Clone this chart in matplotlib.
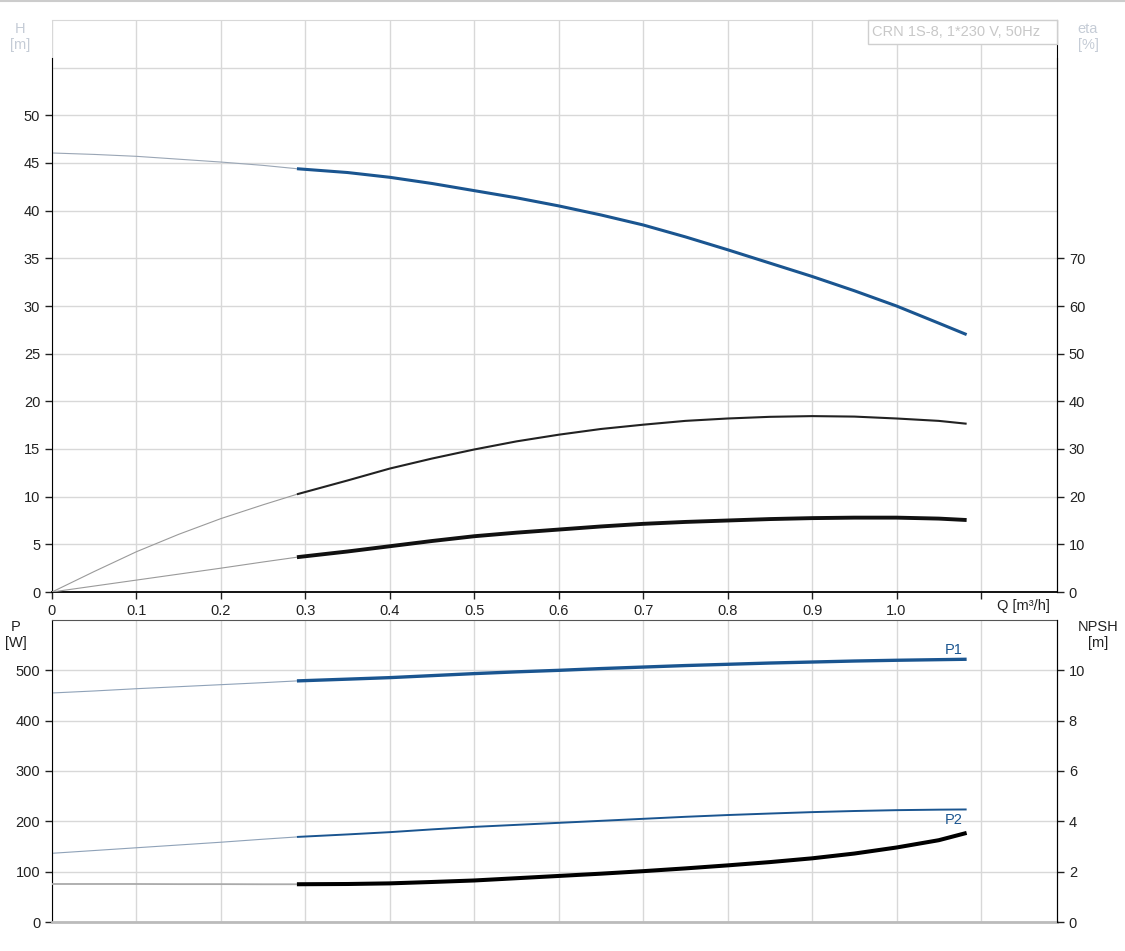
import numpy as np
from matplotlib import pyplot as plt
from matplotlib.patches import Rectangle

plt.rcParams['font.family'] = ['Liberation Sans', 'DejaVu Sans']
plt.rcParams['font.size'] = 10.5

# flow points [m3/h]
q = [0.0, 0.05, 0.1, 0.15, 0.2, 0.25, 0.29, 0.35, 0.4, 0.45, 0.5, 0.55,
     0.6, 0.65, 0.7, 0.75, 0.8, 0.85, 0.9, 0.95, 1.0, 1.05, 1.083]
q_start = 0.29  # start of the working range (thick part)

# head [m]
head = [46.05, 45.9, 45.7, 45.4, 45.1, 44.75, 44.4, 44.0, 43.5, 42.85, 42.1, 41.35,
        40.5, 39.55, 38.5, 37.25, 35.9, 34.5, 33.1, 31.6, 30.0, 28.2, 27.0]
# efficiencies [%]
eta_pump = [0.0, 4.3, 8.45, 12.1, 15.4, 18.3, 20.5, 23.4, 25.9, 28.0, 29.9, 31.6,
            33.0, 34.2, 35.1, 35.9, 36.4, 36.75, 36.9, 36.8, 36.4, 35.9, 35.3]
eta_total = [0.0, 1.25, 2.5, 3.75, 5.0, 6.3, 7.3, 8.5, 9.6, 10.7, 11.7, 12.45,
             13.1, 13.75, 14.3, 14.7, 15.0, 15.3, 15.5, 15.6, 15.6, 15.4, 15.1]
# power [W]
p1 = [455, 459, 463.5, 467.5, 471.5, 475.5, 479, 482.5, 485.5, 489.5, 493.5, 497,
      500, 503.5, 506.5, 509.5, 512, 514.5, 516.5, 518.5, 520, 521.2, 522]
p2 = [136.5, 142, 147.5, 153, 158.5, 164.5, 169, 174, 178.5, 184, 189, 193,
      197, 201, 205, 209, 212.5, 215.5, 218.3, 220.5, 222.2, 223.2, 223.6]
# NPSH [m]
npsh = [1.51, 1.51, 1.51, 1.505, 1.505, 1.50, 1.50, 1.51, 1.535, 1.59, 1.65, 1.74,
        1.83, 1.92, 2.02, 2.13, 2.25, 2.38, 2.53, 2.72, 2.96, 3.25, 3.54]

q_ticklabels = ['0', '0.1', '0.2', '0.3', '0.4', '0.5', '0.6', '0.7', '0.8', '0.9', '1.0', '']

grid_col = '#d8d8d8'
light_txt = '#c5ccd6'
blue = '#1a5590'
W = 1005  # axes width in px
H_TOP = 572  # top axes height in px


def split(y):
    q_arr = np.array(q)
    y_arr = np.array(y, dtype=float)
    lo = q_arr <= q_start + 1e-9
    hi = q_arr >= q_start - 1e-9
    return (q_arr[lo], y_arr[lo]), (q_arr[hi], y_arr[hi])


def curve(ax, y, col, thin_col, lw_thick, lw_thin=0.8):
    (qa, ya), (qb, yb) = split(y)
    ax.plot(qa, ya, color=thin_col, lw=lw_thin, solid_capstyle='butt')
    ax.plot(qb, yb, color=col, lw=lw_thick, solid_capstyle='butt',
            solid_joinstyle='round')


def style_axes(ax):
    ax.set_xlim(0, 1.19)
    ax.set_xticks(np.arange(0, 1.15, 0.1))
    ax.grid(True, color=grid_col, lw=1)
    ax.set_axisbelow(True)
    ax.tick_params(direction='out', length=5, width=1, colors='#222222')


fig = plt.figure(figsize=(11.25, 9.51), dpi=100)

# ---------------- top: H and eta ----------------
ax = fig.add_axes([52 / 1125, 1 - 592 / 951, W / 1125, H_TOP / 951])
style_axes(ax)
ax.set_ylim(0, 60)
ax.set_yticks(np.arange(0, 51, 5))
ax.axhline(55, color=grid_col, lw=1, zorder=0)
ax.set_xticklabels(q_ticklabels)
ax.spines['left'].set_bounds(0, 56)
ax.spines['top'].set_color(grid_col)
ax.spines['bottom'].set_linewidth(1.3)

ax2 = ax.twinx()
ax2.set_ylim(0, 120)
ax2.set_yticks(np.arange(0, 71, 10))
ax2.spines['right'].set_bounds(0, 112)
for s in ['top', 'left', 'bottom']:
    ax2.spines[s].set_visible(False)
ax2.tick_params(direction='out', length=5, width=1, colors='#222222')

curve(ax, head, blue, '#9aa6b5', 2.2)
curve(ax2, eta_pump, '#222222', '#9a9a9a', 1.5)
curve(ax2, eta_total, '#111111', '#9a9a9a', 2.8)

ax.text((20 - 52) / W, 0.997, 'H\n[m]', transform=ax.transAxes, ha='center', va='top',
        color=light_txt, fontsize=10.5, linespacing=1.2)
ax.text((1088 - 52) / W, 0.997, 'eta\n[%]', transform=ax.transAxes, ha='center', va='top',
        color=light_txt, fontsize=10.5, linespacing=1.2)

# title box
ax2.add_patch(Rectangle(((868 - 52) / W, (592 - 44) / H_TOP), (1057 - 868) / W, 24 / H_TOP,
                        transform=ax.transAxes, fc='white', ec='#cfcfcf', lw=1,
                        clip_on=False, zorder=5))
ax2.text((872 - 52) / W, (592 - 32) / H_TOP, 'CRN 1S-8, 1*230 V, 50Hz', transform=ax.transAxes,
         ha='left', va='center', color='#c8c8c8', fontsize=10.5, zorder=6)
ax.text((1050 - 52) / W, -0.012, 'Q [m³/h]', transform=ax.transAxes, ha='right', va='top',
        color='#222222', fontsize=10.5)

# ---------------- bottom: P and NPSH ----------------
bx = fig.add_axes([52 / 1125, 1 - 922 / 951, W / 1125, 302 / 951])
style_axes(bx)
bx.set_ylim(0, 600)
bx.set_yticks(np.arange(0, 501, 100))
bx.tick_params(axis='x', length=0, labelbottom=False)
bx.spines['bottom'].set_color('#bbbbbb')
bx.spines['bottom'].set_linewidth(2)
bx.spines['top'].set_color('#555555')

bx2 = bx.twinx()
bx2.set_ylim(0, 12)
bx2.set_yticks(np.arange(0, 11, 2))
for s in ['top', 'left', 'bottom']:
    bx2.spines[s].set_visible(False)
bx2.tick_params(direction='out', length=5, width=1, colors='#222222')

curve(bx, p1, blue, '#8fa2b8', 2.4)
curve(bx, p2, blue, '#8fa2b8', 1.4)
curve(bx2, npsh, '#000000', '#aaaaaa', 2.9, lw_thin=1.3)

bx.text(1.0675, 541, 'P1', color=blue, ha='center', va='center', fontsize=10.5)
bx.text(1.0675, 202, 'P2', color=blue, ha='center', va='center', fontsize=10.5)

bx.text((16 - 52) / W, 1.0, 'P\n[W]', transform=bx.transAxes, ha='center', va='top',
        color='#222222', fontsize=10.5, linespacing=1.2)
bx.text((1098 - 52) / W, 1.0, 'NPSH\n[m]', transform=bx.transAxes, ha='center', va='top',
        color='#222222', fontsize=10.5, linespacing=1.2)

# thin frame line on top of the picture
fig.add_artist(plt.Line2D([0, 1], [0.999, 0.999], color='#cccccc', lw=1.5))

plt.savefig('out.png', dpi=100)
